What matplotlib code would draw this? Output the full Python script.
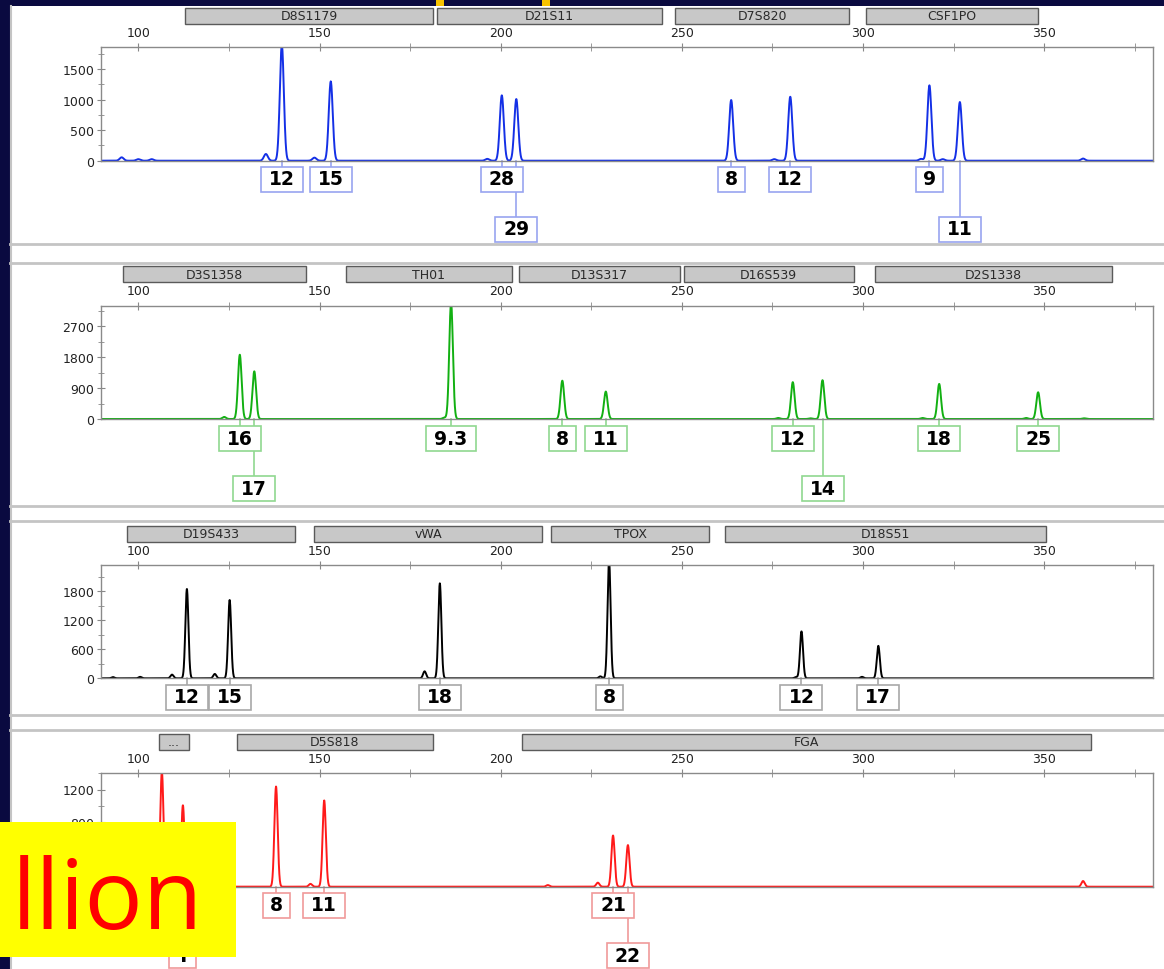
import numpy as np
import matplotlib
matplotlib.use("Agg")
import matplotlib.pyplot as plt
from matplotlib.patches import Rectangle
from matplotlib.lines import Line2D

W, H = 1164, 970
XMIN, XMAX = 89.7, 380.0

# ---- data: (size bp, height RFU, allele label, label row) ----
blue_peaks = [(139.6, 1900, '12', 1), (153.1, 1301, '15', 1), (200.3, 1072, '28', 1),
              (204.3, 1011, '29', 2), (263.6, 995, '8', 1), (279.9, 1049, '12', 1),
              (318.3, 1236, '9', 1), (326.7, 962, '11', 2)]
blue_small = [(95.4, 55), (100.0, 25), (103.7, 25), (135.2, 110), (148.6, 50),
              (196.3, 30), (275.5, 25), (316.0, 30), (322.0, 25), (360.7, 35)]
blue_loci = [('D8S1179', 113.0, 181.4), ('D21S11', 182.3, 244.4),
             ('D7S820', 248.2, 296.2), ('CSF1PO', 300.7, 348.4)]

green_peaks = [(128.0, 1873, '16', 1), (132.0, 1389, '17', 2), (186.3, 3400, '9.3', 1),
               (217.0, 1116, '8', 1), (229.0, 799, '11', 1), (280.6, 1073, '12', 1),
               (288.8, 1131, '14', 2), (321.0, 1022, '18', 1), (348.3, 779, '25', 1)]
green_small = [(123.7, 60), (184.5, 40), (276.6, 30), (285.5, 20), (316.4, 30),
               (345.0, 30), (361.0, 20)]
green_loci = [('D3S1358', 95.7, 146.4), ('TH01', 157.2, 203.0), ('D13S317', 205.0, 249.4),
              ('D16S539', 250.5, 297.4), ('D2S1338', 303.2, 368.6)]

black_peaks = [(113.4, 1849, '12', 1), (125.2, 1622, '15', 1), (183.2, 1966, '18', 1),
               (229.9, 2450, '8', 1), (283.0, 971, '12', 1), (304.2, 672, '17', 1)]
black_small = [(93.0, 25), (100.5, 30), (109.3, 76), (121.1, 90), (179.0, 145),
               (227.5, 40), (281.5, 25), (299.7, 30)]
black_loci = [('D19S433', 97.0, 143.1), ('vWA', 148.6, 211.3), ('TPOX', 214.0, 257.6),
              ('D18S51', 261.8, 350.6)]

red_peaks = [(106.5, 1420, 'X', 1), (112.3, 1005, 'Y', 2), (138.0, 1237, '8', 1),
             (151.3, 1065, '11', 1), (231.0, 632, '21', 1), (235.1, 514, '22', 2)]
red_small = [(147.5, 35), (213.0, 20), (226.8, 50), (360.7, 70)]
red_loci = [('...', 105.6, 113.9), ('D5S818', 127.1, 181.2), ('FGA', 206.0, 362.8)]

# panel layout in pixels from the top: axes top, baseline, header box, label rows
panels = [
    dict(peaks=blue_peaks, small=blue_small, loci=blue_loci, ytop=1860, yticks=[0, 500, 1000, 1500],
         color='#1430e6', light='#98a4f0', sig=0.55, top=48.3, base=161.7, head=(9, 25), rows=(180, 230)),
    dict(peaks=green_peaks, small=green_small, loci=green_loci, ytop=3300, yticks=[0, 900, 1800, 2700],
         color='#12b012', light='#90d890', sig=0.5, top=306.7, base=420.0, head=(267, 283), rows=(439.5, 489.5)),
    dict(peaks=black_peaks, small=black_small, loci=black_loci, ytop=2345, yticks=[0, 600, 1200, 1800],
         color='#000000', light='#a8a8a8', sig=0.42, top=566.0, base=679.3, head=(527, 543), rows=(698, 748)),
    dict(peaks=red_peaks, small=red_small, loci=red_loci, ytop=1335, yticks=[0, 400, 800, 1200],
         color='#ff1a1a', light='#f09a9a', sig=0.45, top=774.3, base=887.7, head=(735, 751), rows=(906, 956.5)),
]

fig = plt.figure(figsize=(W / 100, H / 100), dpi=100, facecolor='#0a0a40')


def fx(px):
    return px / W


def fy(py):
    return 1 - py / H


# white page and grey separators
fig.patches.append(Rectangle((fx(10), 0), 1 - fx(10), fy(7), transform=fig.transFigure,
                             facecolor='white', edgecolor='none', zorder=-10))
for yy in [245, 264, 507, 522, 716, 731]:
    fig.lines.append(Line2D([fx(10), 1], [fy(yy), fy(yy)], transform=fig.transFigure,
                            color='#c4c4c4', lw=2, zorder=-5))
fig.lines.append(Line2D([fx(11), fx(11)], [0, fy(7)], transform=fig.transFigure,
                        color='#c4c4c4', lw=1.5, zorder=-5))
for x0 in [436, 542]:
    fig.patches.append(Rectangle((fx(x0), fy(7)), fx(8), 7 / H, transform=fig.transFigure,
                                 facecolor='#f7c200', edgecolor='none', zorder=-4))

PXBP = (1153 - 101) / (XMAX - XMIN)
xs = np.linspace(XMIN, XMAX, 6000)

for p in panels:
    hpx = p['base'] - p['top']
    ax = fig.add_axes([fx(101), fy(p['base']), fx(1153) - fx(101), hpx / H])

    def af(py, p=p, hpx=hpx):
        return (p['base'] - py) / hpx

    trace = np.zeros_like(xs)
    for pos, ht, *_ in p['peaks'] + p['small']:
        trace += ht * np.exp(-0.5 * ((xs - pos) / p['sig']) ** 2)
    ax.plot(xs, trace, color=p['color'], lw=1.4)

    ax.set_xlim(XMIN, XMAX)
    ax.set_ylim(0, p['ytop'])
    ax.set_xticks([100, 150, 200, 250, 300, 350])
    ax.set_xticks([125, 175, 225, 275, 325, 375], minor=True)
    step = p['yticks'][1]
    ax.set_yticks(p['yticks'])
    ax.set_yticks([step / 2 + step * i for i in range(4)], minor=True)
    ax.tick_params(axis='x', which='both', top=True, bottom=False, labeltop=True,
                   labelbottom=False, direction='inout', color='#888888')
    ax.tick_params(axis='x', which='major', length=6, pad=3, labelsize=9, labelcolor='#222222')
    ax.tick_params(axis='x', which='minor', length=6)
    ax.tick_params(axis='y', which='both', direction='inout', color='#888888')
    ax.tick_params(axis='y', which='major', length=6, pad=2, labelsize=9, labelcolor='#222222')
    ax.tick_params(axis='y', which='minor', length=5)
    for s in ax.spines.values():
        s.set_color('#8a8a8a')
        s.set_linewidth(1)

    tr = ax.get_xaxis_transform()
    # locus header boxes
    h0, h1 = p['head']
    for name, a, b in p['loci']:
        ax.add_patch(Rectangle((a, af(h1)), b - a, af(h0) - af(h1), transform=tr,
                               facecolor='#c8c8c8', edgecolor='#5a5a5a', lw=1, clip_on=False))
        ax.text((a + b) / 2, (af(h0) + af(h1)) / 2, name, transform=tr, ha='center',
                va='center', fontsize=9, color='#2a2a2a', clip_on=False)

    # allele label boxes
    for pos, ht, lab, row in p['peaks']:
        yc = p['rows'][row - 1]
        wpx = 12 + sum(8 if c == '.' else 15 for c in lab)
        wbp = wpx / PXBP
        ybot, ytop_ = af(yc + 12.5), af(yc - 12.5)
        ax.plot([pos, pos], [0, ytop_], transform=tr, color=p['light'], lw=1.2, clip_on=False)
        ax.add_patch(Rectangle((pos - wbp / 2, ybot), wbp, ytop_ - ybot, transform=tr,
                               facecolor='white', edgecolor=p['light'], lw=1.2, clip_on=False, zorder=3))
        ax.text(pos, (ybot + ytop_) / 2, lab, transform=tr, ha='center', va='center',
                fontsize=13.5, fontweight='heavy', color='black', clip_on=False, zorder=4)

# yellow overlay box
fig.patches.append(Rectangle((0, fy(958)), fx(236), (958 - 823) / H, transform=fig.transFigure,
                             facecolor='#ffff00', edgecolor='none', zorder=20))
fig.text(fx(12), fy(929), 'llion', color='#ff0000', fontsize=70, family='Open Sans',
         ha='left', va='baseline', zorder=21)

fig.savefig('out.png', dpi=100, facecolor=fig.get_facecolor())
